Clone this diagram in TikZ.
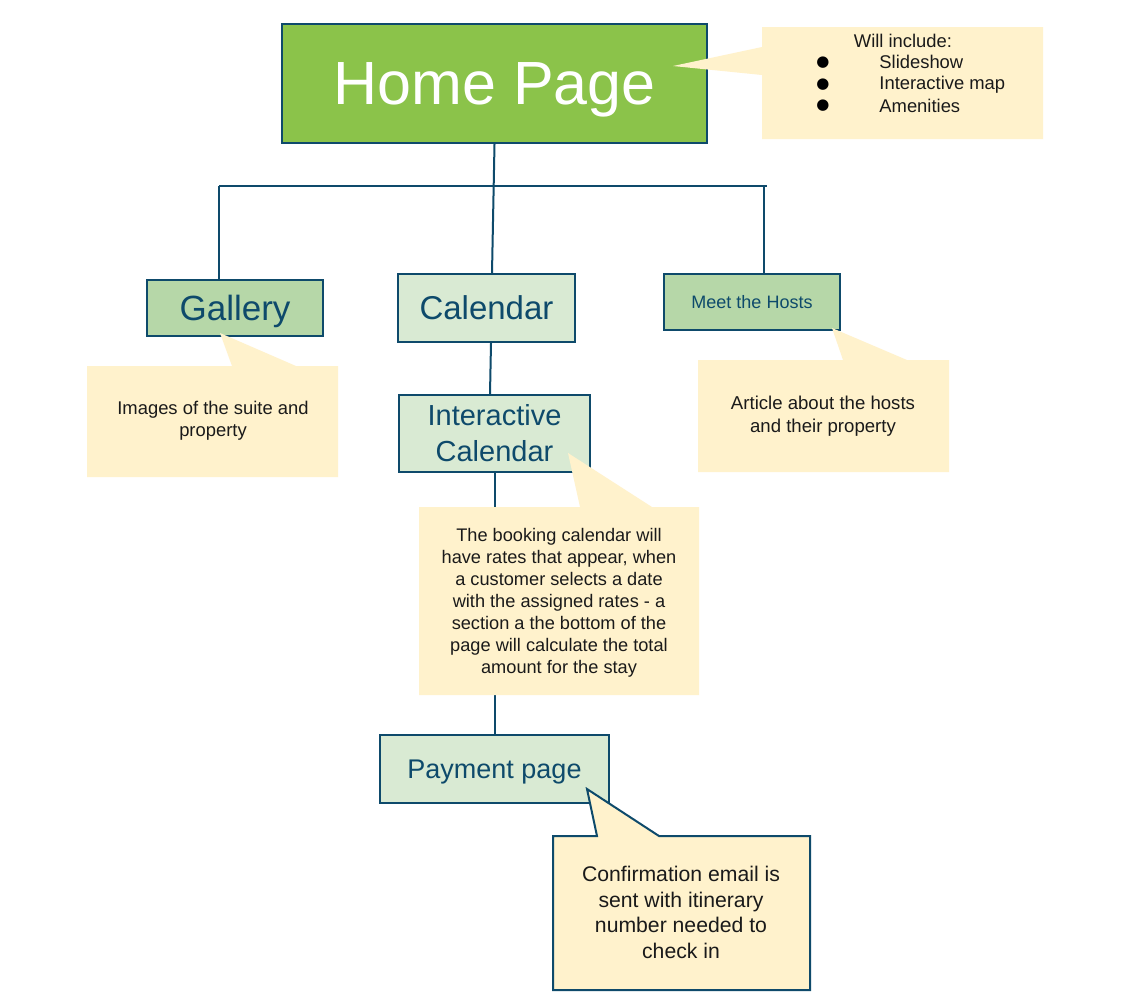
\documentclass[tikz,border=0pt]{standalone}
\usepackage{fontspec}
\setmainfont{Liberation Sans}
\newfontfamily\symfont{DejaVu Sans}
\usetikzlibrary{calc}
\definecolor{navy}{HTML}{0E4A6B}
\definecolor{homegreen}{HTML}{8BC34A}
\definecolor{midgreen}{HTML}{B6D7A8}
\definecolor{palegreen}{HTML}{D9EAD3}
\definecolor{notefill}{HTML}{FFF2CC}
\definecolor{notetext}{HTML}{1A1A1A}
\tikzset{
  pagebox/.style={draw=navy, line width=1pt, inner sep=0pt, text=navy, align=center},
  oneline/.style={text depth=0pt},
  link/.style={draw=navy, line width=1pt},
  note/.style={fill=notefill},
  notetxt/.style={text=notetext, align=center, inner sep=0pt},
  dot/.style={text=black, inner sep=0pt, font=\symfont\fontsize{7.5}{9}\selectfont},
}
\newcommand{\fs}[2]{\fontsize{#1}{#2}\selectfont}
\begin{document}
\begin{tikzpicture}[x=0.5pt, y=-0.5pt]
\useasboundingbox[fill=white] (0,0) rectangle (1125,1003);

% page boxes
\node[pagebox, oneline, fill=homegreen, text=white, minimum width=212.5pt, minimum height=59.5pt,
      font=\fs{30.5}{36}] (home) at (494.5,83.5) {Home Page};
\node[pagebox, oneline, fill=midgreen, minimum width=88pt, minimum height=28pt,
      font=\fs{17.5}{21}] (gal) at (235,308) {Gallery};
\node[pagebox, oneline, fill=palegreen, minimum width=88.5pt, minimum height=34pt,
      font=\fs{16.5}{20}] (cal) at (486.5,308) {Calendar};
\node[pagebox, fill=midgreen, minimum width=88pt, minimum height=28pt,
      font=\fs{9}{11}] (hosts) at (752,302) {Meet the Hosts};
\node[pagebox, fill=palegreen, minimum width=95.5pt, minimum height=38.5pt,
      font=\fs{14.5}{18}] (inter) at (494.5,433.5) {Interactive\\Calendar};
\node[pagebox, oneline, fill=palegreen, minimum width=114.5pt, minimum height=34pt,
      font=\fs{13.5}{16}] (pay) at (494.5,769) {Payment page};

% tree connectors
\coordinate (busL) at (219,186);
\coordinate (busR) at (767,186);
\coordinate (hostDrop) at (764,186);
\draw[link] (home.south) -- ($(cal.north)+(5.5,0)$);
\draw[link] (busL) -- (busR);
\draw[link] (busL) -- (busL |- gal.north);
\draw[link] (hostDrop) -- (hostDrop |- hosts.north);
\draw[link] ($(cal.south)+(4.5,0)$) -- ($(cal.south |- inter.north)+(3.5,0)$);
\draw[link] (inter.south) -- (pay.north);

% speech-bubble notes
\path[note] (762,27) -- (1043,27) -- (1043,139) -- (762,139) -- (762,75)
  -- (673,66) -- (762,47) -- cycle;
\path[note] (87,366) -- (232,366) -- (220,333) -- (296,366) -- (338,366)
  -- (338,477) -- (87,477) -- cycle;
\path[note] (698,360) -- (843,360) -- (832,328) -- (907,360) -- (949,360)
  -- (949,472) -- (698,472) -- cycle;
\path[note] (419,507) -- (580,507) -- (568,453) -- (652,507) -- (699,507)
  -- (699,695) -- (419,695) -- cycle;
\path[note, draw=navy, line width=1pt] (553,836) -- (597,836) -- (587,789)
  -- (659,836) -- (810,836) -- (810,990) -- (553,990) -- cycle;

% note texts
\node[notetxt, font=\fs{9.2}{11}] (incl) at (903,41) {Will include:};
\node[dot] (b1) at (823,63) {●};
\node[dot] (b2) at (823,85) {●};
\node[dot] (b3) at (823,106) {●};
\node[notetxt, font=\fs{9.2}{11}, anchor=west] (i1) at (879,62) {Slideshow};
\node[notetxt, font=\fs{9.2}{11}, anchor=west] (i2) at (879,85) {Interactive map};
\node[notetxt, font=\fs{9.2}{11}, anchor=west] (i3) at (879,106) {Amenities};

\node[notetxt, font=\fs{9.2}{11}] (galnote) at (213,421)
  {Images of the suite and\\property};
\node[notetxt, font=\fs{9.3}{11.5}] (hostnote) at (823,416)
  {Article about the hosts\\and their property};
\node[notetxt, font=\fs{9.1}{11}] (booknote) at (559,602.5)
  {The booking calendar will\\have rates that appear, when\\a customer selects a date\\with the assigned rates - a\\section a the bottom of the\\page will calculate the total\\amount for the stay};
\node[notetxt, font=\fs{10.6}{12.85}] (mailnote) at (681,912.5)
  {Confirmation email is\\sent with itinerary\\number needed to\\check in};
\end{tikzpicture}
\end{document}
